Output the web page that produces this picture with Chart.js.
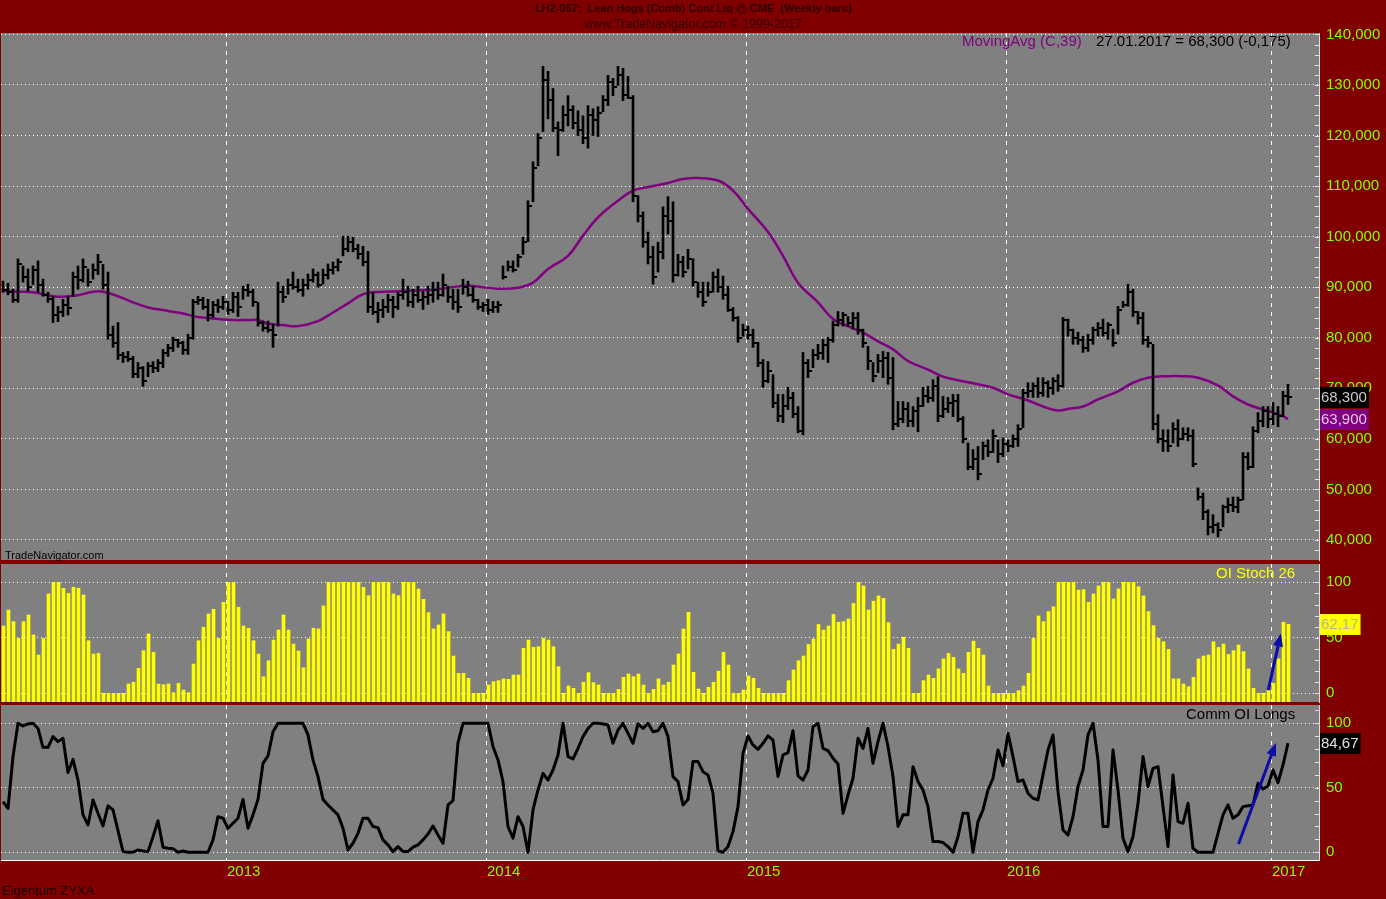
<!DOCTYPE html>
<html>
<head>
<meta charset="utf-8">
<script src="https://cdn.jsdelivr.net/npm/chart.js@4.4.1/dist/chart.umd.min.js"></script>
<style>
  body { margin: 0; width: 1386px; height: 899px; overflow: hidden; position: relative;
         background: #800000; font-family: 'Liberation Sans', Arial, sans-serif; }
  canvas { position: absolute; left: 0; }
  .t { position: absolute; white-space: pre; line-height: 1; z-index: 5; }
</style>
</head>
<body>
<div class="t" style="left:0;width:1386px;text-align:center;top:3px;font-size:11px;font-weight:bold;color:#300000">LH2-057:  Lean Hogs (Comb) Cont Liq @ CME  (Weekly bars)</div>
<div class="t" style="left:0;width:1386px;text-align:center;top:18px;font-size:12.5px;color:#300000">www.TradeNavigator.com © 1999-2017</div>

<canvas id="price" width="1386" height="561" style="top:16px"></canvas>
<canvas id="stoch" width="1386" height="172" style="top:547px"></canvas>
<canvas id="oi" width="1386" height="211" style="top:688px"></canvas>

<div class="t" style="left:962px;top:33px;font-size:15px;color:#800080">MovingAvg (C,39)</div>
<div class="t" style="left:1096px;top:33px;font-size:15px;color:#000">27.01.2017 = 68,300 (-0,175)</div>
<div class="t" style="left:5px;top:550px;font-size:11px;color:#000">TradeNavigator.com</div>
<div class="t" style="left:1216px;top:565px;font-size:15px;color:#ffff00">OI Stoch 26</div>
<div class="t" style="left:1186px;top:706px;font-size:15px;color:#000">Comm OI Longs</div>
<div class="t" style="left:2px;top:884px;font-size:13px;color:#1a0000">Eigentum ZYXA</div>

<script>
// weekly bars, first bar 24.02.2012, last bar 27.01.2017 (prices, 3 decimals)
const highs = [
  91.2, 90.8, 89.6, 95.6, 94.2, 93.6, 94.2, 95.2, 91.6, 89.0,
  88.2, 86.2, 87.6, 88.2, 93.0, 94.2, 95.6, 93.6, 94.6, 96.5,
  94.5, 93.0, 82.3, 83.0, 77.1, 77.3, 76.3, 75.1, 74.3, 75.1,
  75.3, 75.7, 77.7, 78.7, 80.1, 79.7, 79.3, 80.7, 87.6, 88.2,
  88.0, 87.6, 87.2, 87.6, 88.2, 87.2, 89.0, 89.0, 90.2, 90.6,
  89.6, 87.0, 83.3, 83.3, 82.7, 91.0, 90.2, 91.6, 93.0, 91.6,
  91.6, 92.6, 93.6, 93.0, 93.6, 94.6, 95.0, 95.6, 100.1, 100.1,
  99.9, 98.5, 98.1, 97.1, 89.0, 87.0, 87.6, 88.6, 88.2, 89.0,
  91.6, 90.2, 89.6, 90.2, 89.2, 90.2, 91.0, 91.0, 92.6, 90.2,
  89.6, 89.6, 91.6, 91.2, 90.2, 87.6, 87.0, 87.6, 87.2, 87.2,
  94.2, 95.2, 95.2, 96.5, 99.9, 107.1, 114.8, 120.4, 133.7, 132.7,
  129.3, 122.7, 125.9, 127.9, 125.9, 124.9, 123.9, 125.9, 125.3, 125.7,
  127.9, 131.9, 131.3, 133.7, 133.3, 131.7, 127.9, 108.1, 104.9, 100.9,
  98.1, 98.9, 105.9, 107.9, 106.9, 96.5, 96.1, 97.5, 95.6, 91.0,
  91.0, 91.0, 93.0, 93.6, 92.2, 90.2, 86.0, 84.2, 82.7, 82.3,
  81.7, 79.1, 75.7, 75.3, 72.7, 68.8, 68.8, 70.2, 69.2, 66.4,
  77.1, 75.7, 77.7, 78.7, 79.7, 80.1, 83.3, 85.2, 85.0, 84.2,
  85.0, 85.0, 81.7, 78.3, 75.1, 76.7, 77.3, 77.1, 76.1, 67.4,
  67.4, 67.2, 66.4, 68.2, 70.2, 70.4, 71.7, 72.3, 68.4, 68.2,
  68.8, 68.8, 64.4, 59.2, 57.9, 58.5, 59.4, 59.8, 61.8, 59.8,
  60.2, 59.8, 60.8, 62.8, 69.8, 71.1, 71.1, 72.1, 72.1, 71.5,
  72.1, 72.7, 84.0, 83.7, 81.7, 81.1, 80.3, 80.7, 82.1, 83.0,
  83.7, 83.0, 81.7, 86.2, 87.2, 90.6, 89.6, 85.2, 85.0, 80.3,
  78.7, 64.8, 61.8, 61.8, 63.2, 63.8, 62.2, 62.2, 61.8, 50.3,
  49.3, 46.0, 45.0, 43.4, 46.9, 48.3, 48.5, 48.5, 57.3, 57.3,
  62.4, 65.2, 66.4, 66.4, 67.2, 66.4, 69.4, 70.8
];
const lows = [
  89.0, 88.5, 87.0, 87.0, 91.0, 89.2, 90.5, 89.0, 88.2, 87.0,
  83.0, 83.2, 84.2, 84.5, 88.2, 89.6, 91.0, 90.2, 91.6, 92.5,
  89.6, 79.7, 78.1, 75.7, 75.1, 75.3, 72.1, 72.1, 70.4, 72.3,
  73.1, 73.3, 74.1, 76.3, 77.3, 78.1, 76.7, 76.7, 79.7, 86.6,
  85.6, 83.3, 84.0, 85.0, 85.6, 84.6, 85.0, 84.2, 87.6, 88.2,
  86.2, 82.3, 81.3, 81.1, 78.1, 82.3, 87.0, 88.6, 89.6, 89.0,
  88.2, 89.6, 91.0, 90.0, 90.6, 91.6, 92.6, 93.2, 96.2, 97.0,
  97.0, 95.6, 94.2, 85.0, 84.6, 83.0, 84.0, 85.0, 84.0, 85.6,
  87.6, 86.2, 86.0, 87.0, 85.6, 86.6, 87.0, 87.6, 88.2, 87.0,
  85.6, 85.0, 88.6, 88.2, 87.0, 85.6, 85.2, 84.6, 85.0, 85.0,
  91.6, 93.2, 93.0, 94.0, 96.5, 99.0, 106.9, 114.0, 120.8, 123.3,
  120.8, 116.0, 120.8, 121.9, 121.3, 120.0, 118.4, 117.5, 120.0, 119.8,
  124.7, 125.9, 127.9, 129.9, 126.9, 127.3, 106.9, 102.9, 97.9, 94.6,
  90.6, 93.0, 95.6, 100.5, 91.0, 92.2, 92.0, 93.6, 90.2, 88.0,
  86.2, 88.2, 89.0, 89.0, 87.6, 85.2, 83.3, 79.1, 80.3, 79.7,
  78.1, 74.3, 70.2, 71.1, 66.2, 63.4, 63.2, 65.8, 64.2, 61.2,
  60.8, 72.1, 74.1, 75.7, 75.7, 75.1, 79.1, 82.3, 82.3, 82.3,
  81.7, 80.7, 78.1, 73.7, 71.3, 73.1, 72.1, 70.8, 61.8, 62.4,
  63.2, 62.4, 62.4, 61.4, 66.4, 67.2, 67.4, 63.4, 64.2, 65.2,
  64.4, 63.4, 59.2, 53.9, 53.9, 51.9, 55.9, 56.5, 57.3, 55.3,
  56.5, 57.5, 58.3, 58.5, 62.2, 68.2, 68.2, 68.2, 68.4, 68.2,
  68.8, 69.4, 70.2, 80.3, 78.7, 78.7, 77.1, 77.3, 78.7, 80.3,
  80.3, 79.7, 78.3, 80.7, 86.0, 86.2, 84.2, 82.7, 78.7, 78.1,
  61.8, 59.2, 57.5, 57.5, 59.2, 58.5, 59.8, 59.6, 54.5, 47.9,
  44.0, 41.0, 41.4, 40.6, 42.6, 45.4, 45.6, 45.4, 47.9, 53.9,
  54.3, 61.2, 62.4, 62.2, 62.8, 62.4, 64.4, 66.8
];
const closes = [
  89.5, 89.0, 87.5, 94.5, 92.0, 90.0, 93.5, 90.5, 88.5, 87.6,
  84.5, 85.0, 86.5, 85.8, 92.0, 91.5, 94.0, 91.0, 93.5, 95.0,
  90.5, 80.5, 79.0, 76.5, 76.2, 75.8, 72.8, 74.0, 71.5, 74.5,
  74.0, 75.0, 77.0, 78.0, 79.5, 79.0, 77.5, 80.0, 87.0, 87.5,
  86.0, 84.5, 86.5, 86.0, 87.0, 85.5, 88.0, 86.0, 89.5, 89.0,
  87.0, 83.0, 82.0, 81.5, 80.5, 89.0, 88.0, 90.5, 90.0, 89.5,
  90.5, 91.5, 92.5, 90.5, 92.5, 93.5, 94.0, 95.0, 97.5, 99.0,
  97.5, 96.5, 95.0, 86.0, 85.0, 85.5, 86.0, 87.5, 86.0, 88.5,
  89.0, 87.0, 88.5, 87.5, 88.0, 88.5, 89.5, 88.5, 90.5, 88.0,
  87.0, 86.0, 90.0, 88.5, 87.5, 86.0, 86.5, 85.5, 86.0, 86.5,
  92.0, 94.0, 93.5, 96.0, 99.0, 106.0, 113.5, 119.5, 131.0, 127.0,
  121.5, 121.0, 124.0, 125.0, 122.5, 121.0, 119.5, 124.0, 123.0, 124.5,
  127.0, 130.5, 129.5, 132.0, 128.0, 127.5, 108.0, 104.0, 99.0, 96.0,
  92.0, 97.0, 104.0, 103.0, 92.5, 95.0, 93.0, 95.5, 91.0, 89.0,
  87.0, 89.0, 92.0, 90.0, 88.5, 85.5, 84.0, 80.0, 81.5, 80.5,
  79.0, 75.0, 71.5, 73.5, 67.0, 64.5, 66.5, 68.0, 65.0, 61.5,
  75.0, 73.5, 76.5, 77.0, 78.5, 79.5, 82.5, 83.5, 84.5, 83.0,
  84.0, 81.5, 79.0, 75.5, 72.5, 75.5, 76.0, 72.0, 63.0, 64.0,
  66.0, 63.5, 65.5, 66.5, 68.5, 68.0, 70.5, 64.5, 66.0, 67.0,
  67.5, 64.0, 60.0, 54.5, 56.0, 53.0, 58.5, 57.5, 60.5, 57.0,
  59.0, 58.5, 60.0, 62.0, 69.0, 69.5, 70.5, 69.0, 71.0, 70.0,
  71.5, 70.5, 83.5, 81.5, 80.0, 79.5, 78.0, 79.5, 81.5, 82.0,
  81.0, 82.5, 79.0, 85.5, 86.5, 89.0, 85.0, 84.0, 79.5, 79.0,
  63.0, 60.0, 59.5, 58.5, 62.0, 60.0, 61.0, 60.5, 55.0, 48.5,
  45.5, 42.5, 43.0, 42.0, 46.5, 47.0, 46.5, 48.0, 56.5, 54.5,
  61.5, 63.5, 65.5, 64.0, 65.0, 64.5, 68.5, 68.3
];

// MovingAvg (C,39), at these bar numbers
const maIdx = [0, 3, 6, 9, 11, 13, 15, 18, 20, 23, 26, 29, 33, 36, 39, 43, 46, 49, 51, 53,
  56, 59, 63, 66, 69, 72, 76, 79, 83, 86, 89, 93, 96, 99, 103, 106, 109, 113, 116, 119,
  123, 126, 129, 133, 136, 139, 143, 146, 149, 153, 156, 159, 163, 166, 169, 172, 175, 178, 181, 185,
  188, 191, 195, 198, 201, 205, 208, 211, 213, 216, 219, 223, 226, 229, 233, 236, 239, 243, 246, 249,
  253, 256, 257];
const maVals = [89.3, 89.1, 89.0, 88.4, 88.1, 88.2, 88.4, 89.1, 89.1, 88.2, 87.0, 86.0, 85.3, 84.8, 84.1, 83.7, 83.5, 83.5, 83.5, 82.8,
  82.5, 82.3, 83.3, 85.0, 86.8, 88.6, 89.1, 89.2, 89.4, 89.5, 89.9, 90.3, 90.0, 89.7, 89.9, 90.9, 93.6, 96.2, 100.2, 103.8,
  107.1, 109.1, 109.8, 110.6, 111.4, 111.6, 111.1, 109.1, 105.5, 100.9, 96.2, 90.9, 87.0, 83.7, 82.3, 81.0, 79.3, 77.7, 75.4, 73.7,
  72.3, 71.6, 70.8, 70.1, 68.8, 67.6, 66.4, 65.6, 65.9, 66.4, 67.8, 69.4, 71.1, 72.1, 72.4, 72.4, 72.1, 70.6, 68.4, 66.8,
  65.5, 64.5, 63.9];

const stoch = [
  60.7, 75, 64.6, 49.5, 64.6, 70.6, 52.6, 34.5, 49.5, 89.5,
  100, 100, 94.6, 90, 95.5, 94.6, 88.6, 47.4, 35.4, 36,
  0, 0, 0, 0, 0, 8.4, 10, 22.5, 38.4, 53.5,
  37, 8.4, 7.8, 8.4, 0.6, 9, 3, 0.6, 26.4, 47.4,
  59.5, 71.5, 75.7, 49.5, 82, 100, 100, 77.5, 60.7, 58.6,
  47.4, 35.4, 15, 29.4, 48, 57, 70.6, 57, 44.4, 38.1,
  23.1, 49, 58.6, 58, 78.7, 100, 100, 100, 100, 100,
  100, 100, 95.5, 88, 100, 100, 100, 100, 89.5, 88,
  100, 100, 100, 94, 84.7, 72.7, 58, 61.6, 71.5, 55.6,
  33.6, 18, 18, 13.5, 0, 0, 0, 7.5, 10.5, 11.4,
  13, 12.6, 16.5, 16.5, 40.5, 48, 41.4, 42, 49.5, 48,
  42, 24, 0, 6.6, 4.5, 0, 10, 18.6, 9.6, 7.5,
  0, 0, 0, 3.6, 14.4, 17.4, 15, 17.4, 7.5, 0,
  3.6, 13, 7.5, 10, 25.5, 35.4, 58, 73, 19, 3.9,
  0, 5.4, 10, 20, 37, 25.5, 0, 0, 3, 15.6,
  13.5, 4.5, 0, 0, 0, 0, 0, 11.4, 21, 29.4,
  33.6, 44, 49, 62, 57, 60.7, 71, 64, 64.6, 67,
  81, 100, 96.7, 75, 83, 87.7, 85.6, 63.7, 39.6, 44.4,
  50.5, 40.5, 0, 0, 11.4, 16.5, 13.5, 22, 31, 36,
  32.4, 22, 18, 37, 47, 40.5, 34.5, 6.6, 0, 0,
  0, 0, 0, 2.4, 6.6, 18, 49.5, 69.7, 64.6, 73.6,
  78, 100, 100, 100, 100, 93, 93.4, 82, 89.5, 96.7,
  100, 100, 85, 94, 100, 100, 100, 96, 87.7, 73.6,
  61, 49.5, 46.5, 39.6, 13, 13, 8.4, 6, 14.4, 31,
  33.6, 34.5, 46.5, 41.4, 44.4, 35, 38.4, 43.5, 37.5, 22,
  4.5, 0, 0, 2.4, 9, 31, 64, 62.17
];

const commOI = [
  39.3, 34, 74, 100, 98, 99.5, 100, 96, 81.4, 81.4,
  89.7, 85.8, 88.4, 61.8, 72, 56, 29, 21.2, 40.6, 30.2,
  20.4, 36, 32.8, 16.8, 0.5, 0, 0, 1.8, 1, 0.5,
  12, 24.5, 3.9, 3.1, 2.8, 0, 1, 0, 0, 0,
  0, 0, 9.6, 27.6, 26.4, 18.6, 22.5, 26.4, 41, 18.6,
  29, 41, 69, 74.7, 93.5, 100, 100, 100, 100, 100,
  100, 91, 71.6, 58.7, 41, 36.7, 32.8, 29, 18.6, 1.8,
  7, 14.7, 26.4, 26.4, 20, 19.1, 9.6, 5.7, 0.5, 4.4,
  0.5, 0.5, 3.9, 5.7, 9.6, 14.2, 20.4, 13.4, 7, 36.7,
  40, 85, 100, 100, 100, 100, 100, 100, 82, 71.6,
  54.8, 20, 10.9, 27.6, 20, 0, 32.8, 48.3, 61.2, 56,
  63.8, 75.5, 100, 74.2, 72.4, 80.6, 89.7, 96, 100, 100,
  99.5, 98.7, 84.5, 94.8, 100, 92.2, 84.5, 99.5, 96, 100,
  93.5, 94.3, 100, 89.7, 58.7, 54.8, 36.7, 41, 70.3, 70.3,
  62.5, 60, 45.7, 1, 0, 4.4, 16, 35.4, 76.7, 90.2,
  83.2, 79.8, 84.5, 90.2, 87, 58.7, 75.5, 77.3, 94.3, 59.2,
  56, 63.8, 97.4, 100, 80.6, 78.8, 72.9, 68.5, 30.2, 44.4,
  57.4, 88.4, 80.6, 96, 69, 85.8, 100, 82, 58.7, 20,
  29, 29, 66.4, 54.8, 48.3, 35.4, 8.3, 8.3, 7.5, 4.4,
  0, 12, 30.2, 30.2, 0, 23.8, 32.8, 48.3, 57.4, 79.3,
  67, 92.2, 74.2, 54.8, 56, 45.7, 41.9, 40.6, 60, 79.3,
  91, 47, 17.3, 13.4, 27.6, 51, 63.8, 91, 100, 71.6,
  20, 20, 79.3, 48.3, 10.9, 0.5, 12, 38, 74.2, 51,
  65, 66.4, 35.4, 4.4, 60, 23.8, 22.5, 38, 3.1, 0,
  0, 0, 0, 14.7, 29, 36.7, 26.4, 29, 35.4, 36,
  36.7, 53.5, 49, 51.4, 63.8, 54, 67.7, 84.67
];

// first weekly bar of each year, and its label
const yearStart = [45, 97, 149, 201, 254];
const yearLabels = ['2013', '2014', '2015', '2016', '2017'];

// hand-drawn blue arrows (bar number, value)
const stochArrowIdx = [252.96, 255.3];
const stochArrowVal = [3, 50.4];
const oiArrowIdx = [247.1, 254.3];
const oiArrowVal = [6.4, 81.9];

const GREEN = '#80ff00';
const FONT = "'Liberation Sans', Arial, sans-serif";
const AXIS_W = 67;
const SPAN = 263.6;

const fmt3 = v => v.toFixed(3).replace('.', ',');
const fmt2 = v => v.toFixed(2).replace('.', ',');

const plotBg = {
  id: 'plotBg',
  beforeDraw(chart) {
    const { ctx, chartArea: a } = chart;
    ctx.save();
    ctx.fillStyle = '#808080';
    ctx.fillRect(a.left, a.top, a.right - a.left, a.bottom - a.top);
    ctx.restore();
  }
};

const minorTicks = {
  id: 'minorTicks',
  afterDraw(chart, args, opts) {
    const { ctx, chartArea: a, scales: { y } } = chart;
    ctx.save();
    ctx.strokeStyle = '#e0e0e0';
    ctx.lineWidth = 1;
    ctx.beginPath();
    const n0 = Math.ceil(y.min / opts.step), n1 = Math.floor(y.max / opts.step);
    for (let n = n0; n <= n1; n++) {
      const py = Math.round(y.getPixelForValue(n * opts.step)) + 0.5;
      ctx.moveTo(a.right - 4, py);
      ctx.lineTo(a.right, py);
    }
    ctx.stroke();
    ctx.restore();
  }
};

const lastValues = {
  id: 'lastValues',
  afterDraw(chart, args, opts) {
    const { ctx, chartArea: a, scales: { y } } = chart;
    ctx.save();
    ctx.font = '15px ' + FONT;
    ctx.textBaseline = 'middle';
    opts.items.forEach(it => {
      const py = Math.round(y.getPixelForValue(it.value));
      const w = ctx.measureText(it.text).width + 3;
      ctx.fillStyle = it.bg;
      ctx.fillRect(a.right + 1, py - 10, w, 21);
      ctx.fillStyle = it.fg;
      ctx.fillText(it.text, a.right + 2, py + 1);
    });
    ctx.restore();
  }
};

// close tick on the right of each price bar
const closeTicks = {
  id: 'closeTicks',
  afterDatasetsDraw(chart) {
    const { ctx, scales: { x, y } } = chart;
    ctx.save();
    ctx.fillStyle = '#000';
    closes.forEach((c, i) => {
      const px = Math.round(x.getPixelForValue(i));
      const py = Math.round(y.getPixelForValue(c));
      ctx.fillRect(px + 1, py - 1, 3, 2);
    });
    ctx.restore();
  }
};

const arrowHeads = {
  id: 'arrowHeads',
  afterDatasetsDraw(chart) {
    const ctx = chart.ctx;
    chart.data.datasets.forEach((ds, k) => {
      if (!ds.arrowHead) return;
      const pts = chart.getDatasetMeta(k).data;
      const a = pts[pts.length - 2], b = pts[pts.length - 1];
      const ang = Math.atan2(b.y - a.y, b.x - a.x);
      const c = Math.cos(ang), s = Math.sin(ang);
      ctx.save();
      ctx.fillStyle = ds.borderColor;
      ctx.beginPath();
      ctx.moveTo(b.x + 4 * c, b.y + 4 * s);
      ctx.lineTo(b.x - 9 * c + 5 * s, b.y - 9 * s - 5 * c);
      ctx.lineTo(b.x - 9 * c - 5 * s, b.y - 9 * s + 5 * c);
      ctx.closePath();
      ctx.fill();
      ctx.restore();
    });
  }
};

const yearAxisLabels = {
  id: 'yearAxisLabels',
  afterDraw(chart) {
    const { ctx, chartArea: a, scales: { x } } = chart;
    ctx.save();
    ctx.font = '15px ' + FONT;
    ctx.fillStyle = GREEN;
    ctx.textBaseline = 'middle';
    ctx.textAlign = 'left';
    yearStart.forEach((v, k) => {
      ctx.fillText(yearLabels[k], Math.round(x.getPixelForValue(v - 0.36)) + 1, a.bottom + 12);
    });
    ctx.restore();
  }
};

function xAxis(xmin, border) {
  return {
    type: 'linear',
    min: xmin,
    max: xmin + SPAN,
    offset: false,
    afterBuildTicks: s => { s.ticks = yearStart.map(v => ({ value: v - 0.36 })); },
    ticks: { display: false },
    grid: { color: '#ffffff', drawTicks: false, offset: false },
    border: { display: border, color: '#ffffff', width: 1, dash: [4, 5] }
  };
}

function yAxis(min, max, step, fmt) {
  return {
    position: 'right',
    min: min,
    max: max,
    afterFit: s => { s.width = AXIS_W; },
    ticks: { stepSize: step, includeBounds: false, color: GREEN, padding: 7,
             font: { family: FONT, size: 15 }, callback: fmt },
    grid: { color: '#ffffff', drawTicks: false },
    border: { display: true, color: '#dcdcdc', width: 1, dash: [1, 3] }
  };
}

function baseOptions(pad, scales, pluginOpts) {
  return {
    responsive: false,
    animation: false,
    events: [],
    layout: { padding: pad },
    scales: scales,
    plugins: Object.assign({ legend: { display: false }, tooltip: { enabled: false } }, pluginOpts)
  };
}

// price panel: HLC bars + moving average
new Chart(document.getElementById('price'), {
  type: 'bar',
  data: {
    datasets: [
      {
        type: 'bar',
        data: highs.map((h, i) => ({ x: i, y: [lows[i], h] })),
        backgroundColor: '#000000',
        barThickness: 2,
        order: 0
      },
      {
        type: 'line',
        data: maIdx.map((x, k) => ({ x: x, y: maVals[k] })),
        borderColor: '#800080',
        borderWidth: 2.5,
        pointRadius: 0,
        tension: 0.4,
        order: 1
      }
    ]
  },
  options: baseOptions({ left: 1, right: 0, top: 17, bottom: 17 },
    { x: xAxis(-0.4, false), y: yAxis(36.04, 140.28, 10, v => fmt3(v)) },
    {
      minorTicks: { step: 2 },
      lastValues: { items: [
        { value: closes[closes.length - 1], text: fmt3(closes[closes.length - 1]), bg: '#000000', fg: '#c8c8c8' },
        { value: maVals[maVals.length - 1], text: fmt3(maVals[maVals.length - 1]), bg: '#800080', fg: '#e6c8e6' }
      ] }
    }),
  plugins: [plotBg, closeTicks, minorTicks, lastValues]
});

// OI Stoch 26 panel
const STOCH_MIN = -7.8;
new Chart(document.getElementById('stoch'), {
  type: 'bar',
  data: {
    datasets: [
      {
        type: 'line',
        data: stochArrowIdx.map((x, k) => ({ x: x, y: stochArrowVal[k] })),
        borderColor: '#0c0ca8',
        borderWidth: 3,
        pointRadius: 0,
        arrowHead: true,
        order: 0
      },
      {
        type: 'bar',
        data: stoch.map((v, i) => ({ x: i, y: v })),
        backgroundColor: '#ffff00',
        barThickness: 3,
        base: STOCH_MIN,
        order: 1
      }
    ]
  },
  options: baseOptions({ left: 1, right: 0, top: 17, bottom: 17 },
    { x: xAxis(-0.5, false), y: yAxis(STOCH_MIN, 116.5, 50, v => String(v)) },
    {
      minorTicks: { step: 10 },
      lastValues: { items: [
        { value: stoch[stoch.length - 1], text: fmt2(stoch[stoch.length - 1]), bg: '#ffff00', fg: '#b4b49a' }
      ] }
    }),
  plugins: [plotBg, arrowHeads, minorTicks, lastValues]
});

// Comm OI Longs panel
new Chart(document.getElementById('oi'), {
  type: 'line',
  data: {
    datasets: [
      {
        data: oiArrowIdx.map((x, k) => ({ x: x, y: oiArrowVal[k] })),
        borderColor: '#0c0ca8',
        borderWidth: 3,
        pointRadius: 0,
        arrowHead: true,
        order: 0
      },
      {
        data: commOI.map((v, i) => ({ x: i, y: v })),
        borderColor: '#000000',
        borderWidth: 3,
        borderJoinStyle: 'round',
        pointRadius: 0,
        tension: 0,
        order: 1
      }
    ]
  },
  options: baseOptions({ left: 1, right: 0, top: 17, bottom: 39 },
    { x: xAxis(-0.4, true), y: yAxis(-6, 114.2, 50, v => String(v)) },
    {
      minorTicks: { step: 10 },
      lastValues: { items: [
        { value: commOI[commOI.length - 1], text: fmt2(commOI[commOI.length - 1]), bg: '#000000', fg: '#e0e0e0' }
      ] }
    }),
  plugins: [plotBg, arrowHeads, minorTicks, lastValues, yearAxisLabels]
});
</script>
</body>
</html>
